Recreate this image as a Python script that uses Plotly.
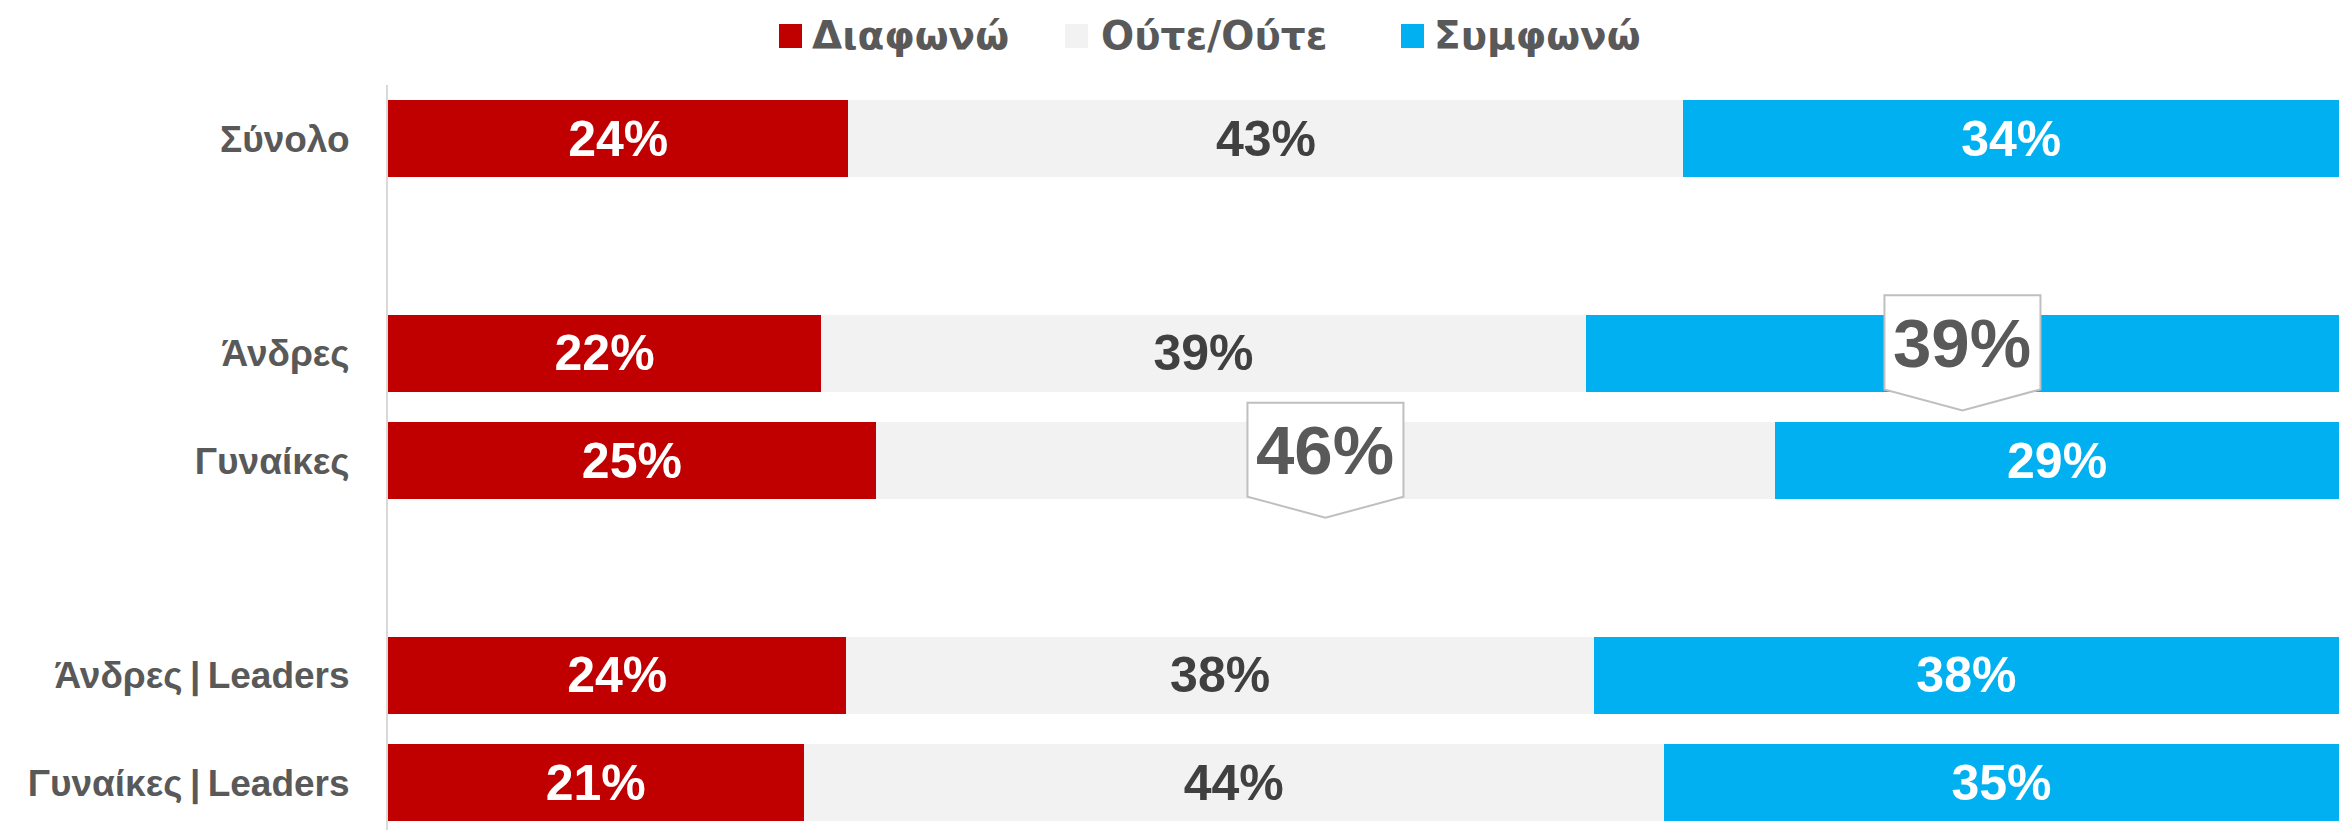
import plotly.graph_objects as go

categories = ["Σύνολο", "Άνδρες", "Γυναίκες", "Άνδρες\u2009|\u2009Leaders", "Γυναίκες\u2009|\u2009Leaders"]
row_order = [categories[0], " ", categories[1], categories[2], "  ", categories[3], categories[4]]
series_names = ["Διαφωνώ", "Ούτε/Ούτε", "Συμφωνώ"]
disagree = [23.6, 22.2, 25.0, 23.5, 21.3]
neither = [42.8, 39.2, 46.1, 38.3, 44.1]
agree = [33.6, 38.6, 28.9, 38.2, 34.6]
# (category, series) pairs that get a highlight callout
callouts = [("Άνδρες", "Συμφωνώ"), ("Γυναίκες", "Ούτε/Ούτε")]

colors = ["#C00000", "#F2F2F2", "#00B0F0"]
text_colors = ["white", "#404040", "white"]
label_grey = "#595959"

W, H = 2339, 830
M_L, M_R, M_T, M_B = 388, 0, 85, 0


def px_x(px):
    return (px - M_L) / (W - M_L - M_R)


def px_y(py):
    return 1 - (py - M_T) / (H - M_T - M_B)


values = [disagree, neither, agree]
fig = go.Figure()
for name, vals, color, tcolor in zip(series_names, values, colors, text_colors):
    # the callout replaces the in-bar label for highlighted cells
    templates = [
        "" if (cat, name) in callouts else "%{x:.0f}%"
        for cat in categories
    ]
    fig.add_trace(
        go.Bar(
            x=vals,
            y=categories,
            orientation="h",
            name=name,
            marker={"color": color, "line": {"width": 0}},
            texttemplate=templates,
            textposition="inside",
            insidetextanchor="middle",
            textangle=0,
            insidetextfont={"family": "Liberation Sans", "size": 50, "color": tcolor, "weight": "bold"},
            showlegend=False,
            hoverinfo="skip",
        )
    )

# callouts: pentagon pointing down, centred on the segment
for cat, series in callouts:
    row = categories.index(cat)
    k = series_names.index(series)
    start = sum(values[j][row] for j in range(k))
    value = values[k][row]
    centre = start + value / 2
    yi = row_order.index(cat)
    fig.add_shape(
        type="path",
        xref="x",
        yref="y",
        xsizemode="pixel",
        ysizemode="pixel",
        xanchor=centre,
        yanchor=yi,
        path="M -78,58 L 78,58 L 78,-36 L 0,-57 L -78,-36 Z",
        fillcolor="white",
        line={"color": "#BFBFBF", "width": 2},
        layer="above",
    )
    fig.add_annotation(
        x=centre,
        y=yi,
        yshift=10,
        text=f"{value:.0f}%",
        showarrow=False,
        font={"family": "Liberation Sans", "size": 69, "color": label_grey, "weight": "bold"},
    )

# legend drawn by hand so the swatches can be large
legend_swatch_left = [779, 1065, 1401]
legend_text_left = [810, 1099, 1432]
for name, color, sx, tx in zip(series_names, colors, legend_swatch_left, legend_text_left):
    fig.add_shape(
        type="rect",
        xref="paper",
        yref="paper",
        x0=px_x(sx),
        x1=px_x(sx + 23),
        y0=px_y(48),
        y1=px_y(24),
        fillcolor=color,
        line={"width": 0},
    )
    fig.add_annotation(
        xref="paper",
        yref="paper",
        x=px_x(tx),
        y=px_y(35),
        xanchor="left",
        yanchor="middle",
        text=name,
        showarrow=False,
        font={"family": "DejaVu Sans", "size": 39, "color": label_grey, "weight": "bold"},
    )

fig.update_layout(
    width=W,
    height=H,
    margin={"l": M_L, "r": M_R, "t": M_T, "b": M_B},
    barmode="stack",
    bargap=0.285,
    plot_bgcolor="white",
    paper_bgcolor="white",
    showlegend=False,
)
fig.update_xaxes(range=[0, 100], visible=False, showgrid=False, zeroline=False)
fig.update_yaxes(
    type="category",
    categoryorder="array",
    categoryarray=row_order,
    range=[6.44, -0.5],
    showgrid=False,
    zeroline=False,
    showline=True,
    linecolor="#D9D9D9",
    linewidth=2,
    ticks="",
    ticklabelstandoff=29,
    tickfont={"family": "Liberation Sans", "size": 37, "color": label_grey, "weight": "bold"},
)

fig.write_html(
    "out.html",
    config={"displayModeBar": False},
    post_script="document.body.style.margin = '0px';",
)
